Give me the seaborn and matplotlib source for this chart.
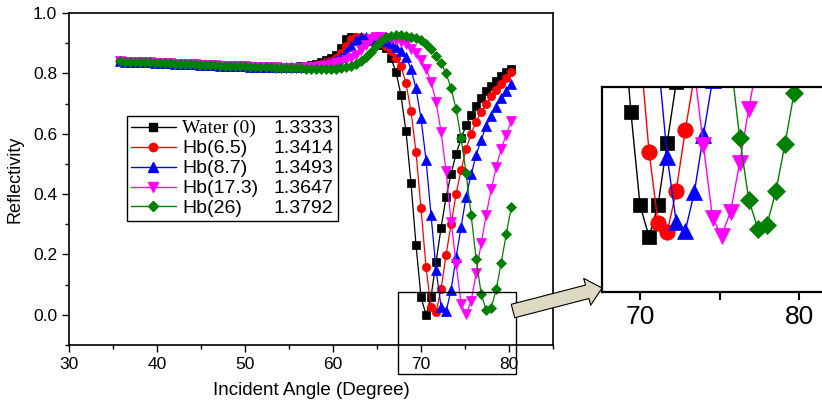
import matplotlib
matplotlib.use("Agg")
import matplotlib.pyplot as plt
import seaborn as sns
from matplotlib.lines import Line2D
from matplotlib.patches import Rectangle, FancyArrowPatch
from matplotlib.ticker import MultipleLocator

# incident angle grid (degree)
angle = [35.80, 36.37, 36.94, 37.51, 38.08, 38.65, 39.22, 39.79, 40.36, 40.93,
         41.50, 42.07, 42.64, 43.21, 43.78, 44.35, 44.92, 45.49, 46.06, 46.63,
         47.20, 47.77, 48.34, 48.91, 49.48, 50.05, 50.62, 51.19, 51.76, 52.33,
         52.90, 53.47, 54.04, 54.61, 55.18, 55.75, 56.32, 56.89, 57.46, 58.03,
         58.60, 59.17, 59.74, 60.31, 60.88, 61.45, 62.02, 62.59, 63.16, 63.73,
         64.30, 64.87, 65.44, 66.01, 66.58, 67.15, 67.72, 68.29, 68.86, 69.43,
         70.00, 70.57, 71.14, 71.71, 72.28, 72.85, 73.42, 73.99, 74.56, 75.13,
         75.70, 76.27, 76.84, 77.41, 77.98, 78.55, 79.12, 79.69, 80.26]

# part of the curves where all samples overlap (35.8 - 52.9 deg)
flat = [0.840, 0.839, 0.838, 0.838, 0.837, 0.836, 0.836, 0.835, 0.834, 0.834,
        0.833, 0.832, 0.832, 0.831, 0.830, 0.830, 0.829, 0.828, 0.828, 0.827,
        0.826, 0.826, 0.825, 0.824, 0.824, 0.823, 0.822, 0.822, 0.821, 0.821,
        0.820]

water = flat + [0.820, 0.820, 0.820, 0.821, 0.822, 0.823, 0.825, 0.828, 0.832,
                0.837, 0.843, 0.850, 0.862, 0.885, 0.915, 0.920, 0.918, 0.915, 0.912,
                0.907, 0.901, 0.895, 0.885, 0.850, 0.806, 0.728, 0.609, 0.438, 0.232,
                0.059, 0.000, 0.060, 0.175, 0.288, 0.390, 0.468, 0.533, 0.585, 0.628,
                0.663, 0.692, 0.718, 0.740, 0.758, 0.775, 0.790, 0.803, 0.816]
hb65 = flat + [0.820, 0.820, 0.820, 0.820, 0.821, 0.822, 0.823, 0.825, 0.828,
               0.832, 0.836, 0.842, 0.852, 0.868, 0.890, 0.913, 0.920, 0.919, 0.916,
               0.912, 0.907, 0.900, 0.892, 0.875, 0.850, 0.825, 0.767, 0.675, 0.539,
               0.353, 0.158, 0.025, 0.008, 0.086, 0.199, 0.300, 0.400, 0.480, 0.550,
               0.600, 0.640, 0.672, 0.700, 0.725, 0.745, 0.764, 0.785, 0.803]
hb87 = flat + [0.820, 0.820, 0.820, 0.820, 0.820, 0.821, 0.822, 0.824, 0.826,
               0.829, 0.833, 0.838, 0.845, 0.855, 0.870, 0.890, 0.912, 0.920, 0.920,
               0.918, 0.915, 0.912, 0.907, 0.900, 0.888, 0.875, 0.855, 0.815, 0.750,
               0.651, 0.513, 0.331, 0.149, 0.027, 0.011, 0.083, 0.190, 0.292, 0.392,
               0.465, 0.530, 0.580, 0.625, 0.660, 0.690, 0.718, 0.743, 0.765]
hb173 = flat + [0.820, 0.819, 0.819, 0.819, 0.819, 0.819, 0.820, 0.821, 0.822,
                0.824, 0.826, 0.829, 0.833, 0.838, 0.844, 0.852, 0.862, 0.876, 0.895,
                0.915, 0.921, 0.920, 0.917, 0.913, 0.909, 0.904, 0.897, 0.882, 0.866,
                0.845, 0.815, 0.773, 0.706, 0.607, 0.475, 0.309, 0.170, 0.035, 0.002,
                0.047, 0.138, 0.238, 0.331, 0.416, 0.490, 0.550, 0.597, 0.642]
hb26 = flat + [0.819, 0.819, 0.818, 0.818, 0.817, 0.817, 0.816, 0.816, 0.815,
               0.815, 0.815, 0.815, 0.816, 0.818, 0.821, 0.825, 0.831, 0.840, 0.853,
               0.870, 0.890, 0.908, 0.919, 0.924, 0.926, 0.926, 0.925, 0.922, 0.918,
               0.910, 0.898, 0.880, 0.858, 0.833, 0.800, 0.750, 0.681, 0.585, 0.469,
               0.330, 0.184, 0.069, 0.015, 0.022, 0.085, 0.173, 0.268, 0.357]

names = ["Water (0)", "Hb(6.5)", "Hb(8.7)", "Hb(17.3)", "Hb(26)"]
ri = ["1.3333", "1.3414", "1.3493", "1.3647", "1.3792"]
series = [water, hb65, hb87, hb173, hb26]
colors = ["black", "red", "blue", "magenta", "green"]
markers = ["s", "o", "^", "v", "D"]
msizes = [5.5, 6.0, 6.5, 6.5, 5.0]

sns.set_theme(style="ticks", rc={"axes.edgecolor": "black", "xtick.color": "black",
                                 "ytick.color": "black", "text.color": "black",
                                 "axes.labelcolor": "black"})
plt.rcParams["font.family"] = ["Liberation Sans", "DejaVu Sans"]

fig = plt.figure(figsize=(8.22, 4.0), dpi=100)
ax = fig.add_axes([69 / 822, 1 - 345 / 400, 484 / 822, 332 / 400])

for vals, c, m, ms in zip(series, colors, markers, msizes):
    sns.lineplot(x=angle, y=vals, ax=ax, color=c, marker=m, markersize=ms,
                 markeredgecolor=c, markeredgewidth=0.5, linewidth=0.9,
                 legend=False, sort=False, estimator=None)

ax.set_xlim(30, 85)
ax.set_ylim(-0.1, 1.0)
ax.xaxis.set_major_locator(MultipleLocator(10))
ax.xaxis.set_minor_locator(MultipleLocator(5))
ax.yaxis.set_major_locator(MultipleLocator(0.2))
ax.yaxis.set_minor_locator(MultipleLocator(0.1))
ax.yaxis.set_major_formatter(matplotlib.ticker.FormatStrFormatter("%.1f"))
ax.tick_params(which="major", direction="out", length=5, width=1, labelsize=12.5)
ax.tick_params(which="minor", direction="out", length=3, width=1)
for s in ax.spines.values():
    s.set_linewidth(1.2)
ax.set_xlabel("Incident Angle (Degree)", fontsize=13.5)
ax.set_ylabel("Reflectivity", fontsize=13)
ax.xaxis.set_label_coords(0.5, -0.11)
ax.yaxis.set_label_coords(-0.093, 0.5)

handles = [Line2D([], [], color=c, marker=m, markersize=ms, markeredgecolor=c, lw=1)
           for c, m, ms in zip(colors, markers, msizes)]
leg = ax.legend(handles, names, loc="upper left", mode="expand",
                bbox_to_anchor=(0.1198, 0.3, 0.436, 0.39), borderaxespad=0,
                fontsize=14, handlelength=2.3, handletextpad=0.35,
                labelspacing=0.12, borderpad=0.2, fancybox=False,
                edgecolor="black", framealpha=1)
leg.get_frame().set_linewidth(1.0)
leg.get_texts()[0].set_family("Liberation Serif")

# zoomed inset of the resonance dips
axin = fig.add_axes([602 / 822, 1 - 292 / 400, 240 / 822, 205 / 400])
for vals, c, m, ms in zip(series, colors, markers, msizes):
    sns.lineplot(x=angle, y=vals, ax=axin, color=c, marker=m, markersize=ms * 1.85,
                 markeredgecolor=c, markeredgewidth=0.5, linewidth=1.0,
                 legend=False, sort=False, estimator=None)
axin.set_xlim(67.61, 67.61 + 240 / 15.9)
axin.set_ylim(-0.103, 0.279)
axin.set_xticks([70, 80])
axin.set_xticks([75], minor=True)
axin.set_yticks([])
axin.tick_params(which="both", direction="out", length=6, width=1.5, labelsize=19)
axin.spines["right"].set_visible(False)
for k in ["left", "top", "bottom"]:
    axin.spines[k].set_linewidth(1.6)

# zoom box and arrow
fig.add_artist(Rectangle((398 / 822, 1 - 374 / 400), 118 / 822, 82 / 400,
                         transform=fig.transFigure, fill=False, ec="black", lw=1))
fig.add_artist(FancyArrowPatch((513 / 822, 89 / 400), (602 / 822, 112 / 400),
                               transform=fig.transFigure,
                               arrowstyle="simple,head_length=0.55,head_width=1.0,tail_width=0.5",
                               mutation_scale=20, fc="#ddd9c3", ec="black", lw=0.8,
                               shrinkA=0, shrinkB=0))

# refractive index column inside the legend box
fig.canvas.draw()
for t, r in zip(leg.get_texts(), ri):
    bb = t.get_window_extent()
    fig.text(333 / 822, (bb.y0 + bb.y1) / 2 / fig.bbox.height, r,
             ha="right", va="center", fontsize=14)

fig.savefig("out.png", dpi=100)
